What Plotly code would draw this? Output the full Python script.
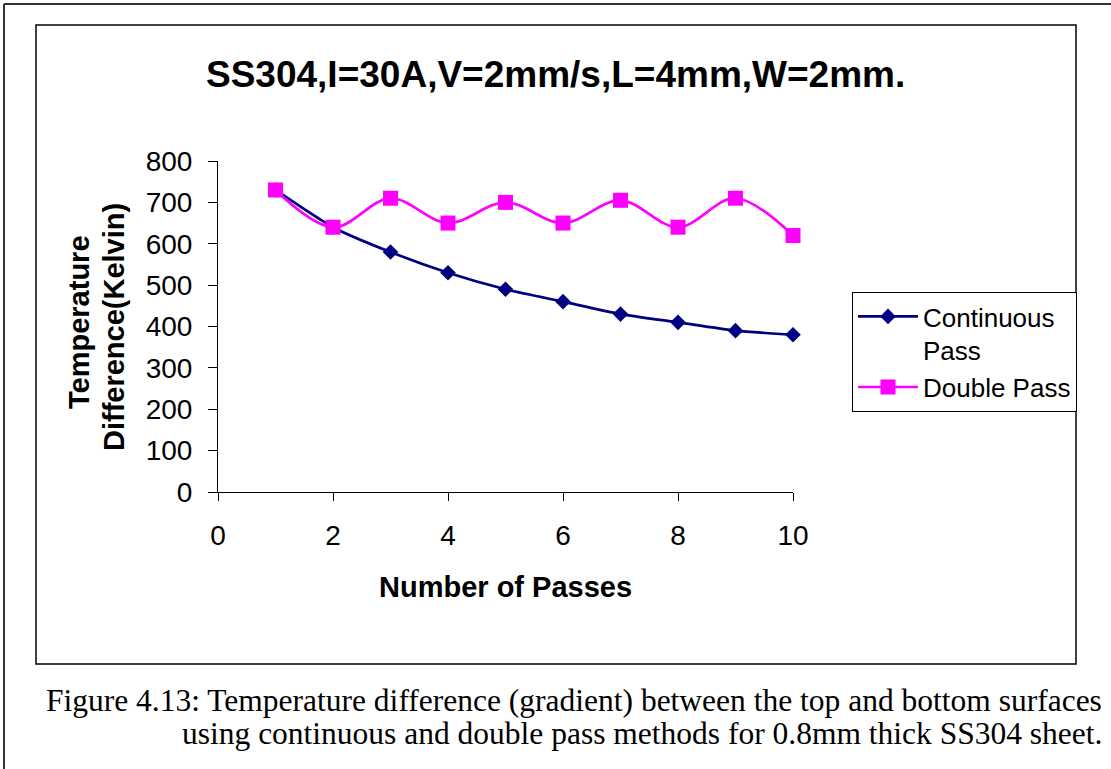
import plotly.graph_objects as go

passes = [1, 2, 3, 4, 5, 6, 7, 8, 9, 10]
continuous = [730, 640, 580, 530, 490, 460, 430, 410, 390, 380]
double = [730, 640, 710, 650, 700, 650, 705, 640, 710, 620]
x_ticks = [0, 2, 4, 6, 8, 10]
y_ticks = [0, 100, 200, 300, 400, 500, 600, 700, 800]

W, H = 1111, 769
def px(x):
    return x / W
def py(y):
    return 1 - y / H

SANS = "Liberation Sans, Arial"
SERIF = "Liberation Serif, Times New Roman"

fig = go.Figure()
fig.add_trace(go.Scatter(
    x=passes, y=continuous, name="Continuous<br>Pass", mode="lines+markers", cliponaxis=False,
    line=dict(color="#000080", width=2.7, shape="spline", smoothing=0.6),
    marker=dict(symbol="diamond", size=12, color="#000080")))
fig.add_trace(go.Scatter(
    x=passes, y=double, name="Double Pass", mode="lines+markers", cliponaxis=False,
    line=dict(color="#FF00FF", width=2.7, shape="spline", smoothing=1.0),
    marker=dict(symbol="square", size=15, color="#FF00FF")))

tickfont = dict(family=SANS, size=28, color="black")
fig.update_layout(
    template="none",
    width=W, height=H, margin=dict(l=0, r=0, t=0, b=0, pad=0, autoexpand=False),
    paper_bgcolor="white", plot_bgcolor="white",
    font=dict(family=SANS, size=28, color="black"),
    xaxis=dict(domain=[px(218), px(793)], range=[0, 10], tickvals=x_ticks,
               showgrid=False, zeroline=False, showline=True, linecolor="black", linewidth=1,
               ticks="outside", ticklen=8, tickwidth=1, tickcolor="black", ticklabelstandoff=10,
               tickfont=tickfont, automargin=False),
    yaxis=dict(domain=[py(492), py(161)], range=[0, 800], tickvals=y_ticks,
               showgrid=False, zeroline=False, showline=True, linecolor="black", linewidth=1,
               ticks="outside", ticklen=9, tickwidth=1, tickcolor="black", ticklabelstandoff=10,
               tickfont=tickfont, automargin=False),
    legend=dict(x=px(852), y=py(292), xanchor="left", yanchor="top",
                bordercolor="black", borderwidth=1, bgcolor="white",
                font=dict(family=SANS, size=26, color="black"),
                valign="top", tracegroupgap=0, itemwidth=60),
    showlegend=True,
)

shapes = [
    dict(type="line", xref="paper", yref="paper", x0=px(4), x1=px(1111), y0=py(4), y1=py(4),
         line=dict(color="#333", width=2)),
    dict(type="line", xref="paper", yref="paper", x0=px(4), x1=px(4), y0=py(4), y1=py(769),
         line=dict(color="#333", width=2)),
    dict(type="rect", xref="paper", yref="paper", x0=px(36), x1=px(1076), y0=py(25), y1=py(664),
         line=dict(color="black", width=1.5)),
]
fig.update_layout(shapes=shapes)

ann = [
    dict(text="<b>SS304,I=30A,V=2mm/s,L=4mm,W=2mm.</b>", x=px(555), y=py(74),
         font=dict(family=SANS, size=37, color="black")),
    dict(text="<b>Temperature</b>", x=px(79), y=py(322), textangle=-90,
         font=dict(family=SANS, size=29, color="black")),
    dict(text="<b>Difference(Kelvin)</b>", x=px(114), y=py(327), textangle=-90,
         font=dict(family=SANS, size=29, color="black")),
    dict(text="<b>Number of Passes</b>", x=px(505), y=py(587),
         font=dict(family=SANS, size=29, color="black")),
    dict(text="Figure 4.13: Temperature difference (gradient) between the top and bottom surfaces",
         x=px(1104), y=py(700), xanchor="right",
         font=dict(family=SERIF, size=31.5, color="black")),
    dict(text="using continuous and double pass methods for 0.8mm thick SS304 sheet.",
         x=px(1104), y=py(733), xanchor="right",
         font=dict(family=SERIF, size=31.5, color="black")),
]
for a in ann:
    a.update(xref="paper", yref="paper", showarrow=False)
    a.setdefault("xanchor", "center")
    a.setdefault("yanchor", "middle")
fig.update_layout(annotations=ann)

fig.write_html("out.html", config={"displayModeBar": False},
               post_script="document.body.style.margin='0';document.body.style.overflow='hidden';")
